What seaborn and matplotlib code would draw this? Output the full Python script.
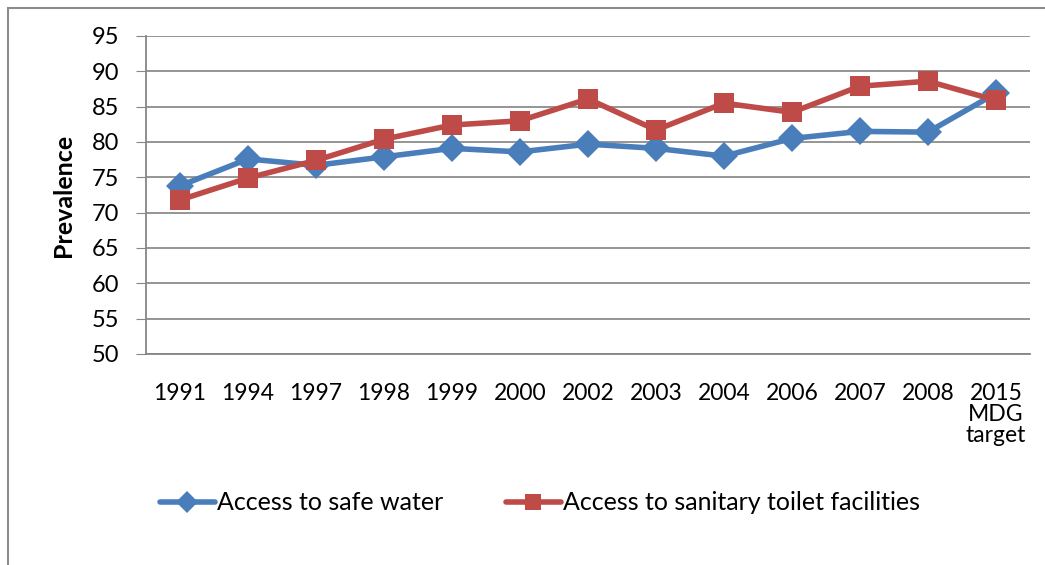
import numpy as np
import pandas as pd
import matplotlib
matplotlib.use("Agg")
import matplotlib.pyplot as plt
import seaborn as sns

# data
years = ['1991', '1994', '1997', '1998', '1999', '2000', '2002', '2003',
         '2004', '2006', '2007', '2008', '2015\nMDG\ntarget']
safe_water = [73.8, 77.6, 76.7, 77.9, 79.1, 78.6, 79.7, 79.1, 78.0, 80.5, 81.5, 81.4, 86.9]
sanitary = [71.8, 74.9, 77.4, 80.4, 82.4, 83.0, 86.1, 81.7, 85.5, 84.2, 87.9, 88.6, 85.9]
series = ['Access to safe water', 'Access to sanitary toilet facilities']

df = pd.DataFrame({
    'pos': list(range(len(years))) * 2,
    'value': safe_water + sanitary,
    'series': [series[0]] * len(years) + [series[1]] * len(years),
})

sns.set_style('white')
plt.rcParams['font.family'] = ['Lato', 'DejaVu Sans']
plt.rcParams['text.color'] = 'black'
plt.rcParams['xtick.color'] = 'black'
plt.rcParams['ytick.color'] = 'black'
plt.rcParams['axes.labelcolor'] = 'black'

fig = plt.figure(figsize=(10.45, 5.65), dpi=100)
ax = fig.add_axes([146 / 1045, 1 - 354 / 565, (1030 - 146) / 1045, (354 - 36) / 565])

colors = {series[0]: '#4A7EBB', series[1]: '#BE4B48'}
sns.lineplot(data=df, x='pos', y='value', hue='series', style='series',
             palette=colors, markers={series[0]: 'D', series[1]: 's'},
             dashes=False, linewidth=4, markersize=14, markeredgewidth=0,
             ax=ax)

ax.set_ylim(50, 95)
ax.set_yticks(np.arange(50, 96, 5))
ax.set_xlim(-0.5, len(years) - 0.5)
ax.set_xticks(range(len(years)))
ax.set_xticklabels(years, fontsize=16.5, linespacing=1.0)
ax.tick_params(axis='x', length=0, pad=21)
ax.set_xticks(np.arange(-0.5, len(years), 1), minor=True)
ax.tick_params(axis='x', which='minor', length=7, color='#868686', direction='out')
ax.tick_params(axis='y', labelsize=17, length=7, color='#868686', direction='out', left=True, pad=12)
ax.grid(axis='y', color='#8C8C8C', linewidth=1.3)
ax.set_axisbelow(True)

for s in ['top', 'right']:
    ax.spines[s].set_visible(False)
for s in ['left', 'bottom']:
    ax.spines[s].set_color('#868686')
    ax.spines[s].set_linewidth(1.3)

ax.set_xlabel('')
ax.set_ylabel('Prevalence', fontsize=18, fontweight='bold', labelpad=12)

handles, labels = ax.get_legend_handles_labels()
for h in handles:
    h.set_markersize(11)
ax.legend(handles, labels, loc='center', bbox_to_anchor=(540 / 1045, 1 - 503 / 565),
          bbox_transform=fig.transFigure, ncol=2, frameon=False, fontsize=18,
          handlelength=2.2, handletextpad=0.1, columnspacing=2.5)

# outer chart border
fig.add_artist(plt.Rectangle((8 / 1045, -0.05), 1.1, 1.05 - 8 / 565, transform=fig.transFigure,
                             fill=False, edgecolor='#8C8C8C', linewidth=1.5))

fig.savefig('out.png', dpi=100)
